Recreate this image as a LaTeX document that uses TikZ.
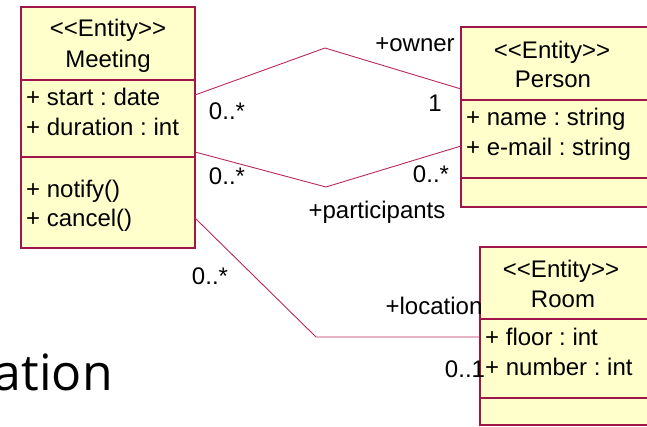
\documentclass[tikz,border=0pt]{standalone}
\usepackage{fontspec}
\setmainfont{Liberation Sans}[Ligatures=TeXOff]
\newfontfamily\slidefont{Open Sans}
\usetikzlibrary{positioning,calc}
\frenchspacing

\definecolor{umlborder}{HTML}{A0164A}
\definecolor{umlfill}{HTML}{FFFFCC}
\definecolor{umlline}{HTML}{B8285E}

\tikzset{
  classbox/.style={draw=umlborder, fill=umlfill, line width=1.6pt, inner sep=0pt, outer sep=0pt},
  assoc/.style={draw=umlline, line width=0.9pt},
  txt/.style={inner sep=0pt, font=\fontsize{24}{30}\selectfont},
}

\begin{document}
\begin{tikzpicture}[x=1pt,y=-1pt]
  \useasboundingbox (0,0) rectangle (647,427);

  % Meeting
  \node[classbox, minimum width=174pt, minimum height=73pt, anchor=north west] (meet-head) at (21,7) {};
  \node[classbox, minimum width=174pt, minimum height=77pt, anchor=north west] (meet-attr) at (meet-head.south west) {};
  \node[classbox, minimum width=174pt, minimum height=91pt, anchor=north west] (meet-ops) at (meet-attr.south west) {};
  \node[txt, anchor=base] (meet-st) at (108,37) {<<Entity>>};
  \node[txt, anchor=base] (meet-name) at (108,68) {Meeting};
  \node[txt, anchor=base west] (meet-a1) at (26,106) {+ start : date};
  \node[txt, anchor=base west] (meet-a2) at (26,136) {+ duration : int};
  \node[txt, anchor=base west] (meet-o1) at (26,198) {+ notify()};
  \node[txt, anchor=base west] (meet-o2) at (26,227) {+ cancel()};

  % Person
  \node[classbox, minimum width=200pt, minimum height=73pt, anchor=north west] (pers-head) at (461,27) {};
  \node[classbox, minimum width=200pt, minimum height=78pt, anchor=north west] (pers-attr) at (pers-head.south west) {};
  \node[classbox, minimum width=200pt, minimum height=29pt, anchor=north west] (pers-ops) at (pers-attr.south west) {};
  \node[txt, anchor=base] (pers-st) at (552,59) {<<Entity>>};
  \node[txt, anchor=base] (pers-name) at (553,88) {Person};
  \node[txt, anchor=base west] (pers-a1) at (466,126) {+ name : string};
  \node[txt, anchor=base west] (pers-a2) at (466,156) {+ e-mail : string};

  % Room
  \node[classbox, minimum width=200pt, minimum height=72pt, anchor=north west] (room-head) at (480,247) {};
  \node[classbox, minimum width=200pt, minimum height=79pt, anchor=north west] (room-attr) at (room-head.south west) {};
  \node[classbox, minimum width=200pt, minimum height=27pt, anchor=north west] (room-ops) at (room-attr.south west) {};
  \node[txt, anchor=base] (room-st) at (561,277) {<<Entity>>};
  \node[txt, anchor=base] (room-name) at (563,307) {Room};
  \node[txt, anchor=base west] (room-a1) at (485,345) {+ floor : int};
  \node[txt, anchor=base west] (room-a2) at (485,375) {+ number : int};

  % associations
  \coordinate (own-bend) at (325,48);
  \coordinate (part-bend) at (326,187);
  \coordinate (loc-bend) at (316,337);
  \draw[assoc] ($(meet-attr.north east)+(0,15)$) -- (own-bend) -- ($(pers-head.south west)+(0,-11)$);
  \draw[assoc] ($(meet-attr.south east)+(0,-5)$) -- (part-bend) -- ($(pers-attr.north west)+(0,46)$);
  \draw[assoc] ($(meet-ops.north east)+(0,61)$) -- (loc-bend) -- ($(room-attr.north west)+(0,18)$);

  \node[txt, anchor=base] (own-role) at (415,52) {+owner};
  \node[txt, anchor=base] (own-mult) at (435,112) {1};
  \node[txt, anchor=base] (own-many) at (227,120) {0..*};
  \node[txt, anchor=base] (part-many) at (227,185) {0..*};
  \node[txt, anchor=base] (part-mult) at (431,183) {0..*};
  \node[txt, anchor=base] (part-role) at (377,219) {+participants};
  \node[txt, anchor=base] (loc-many) at (210,285) {0..*};
  \node[txt, anchor=base] (loc-role) at (434,314) {+location};
  \node[txt, anchor=base] (loc-mult) at (465,377) {0..1};

  % cut-off slide title
  \node[inner sep=0pt, anchor=base east, font=\slidefont\fontsize{50}{60}\selectfont] (title) at (113,390) {ation};
\end{tikzpicture}
\end{document}
